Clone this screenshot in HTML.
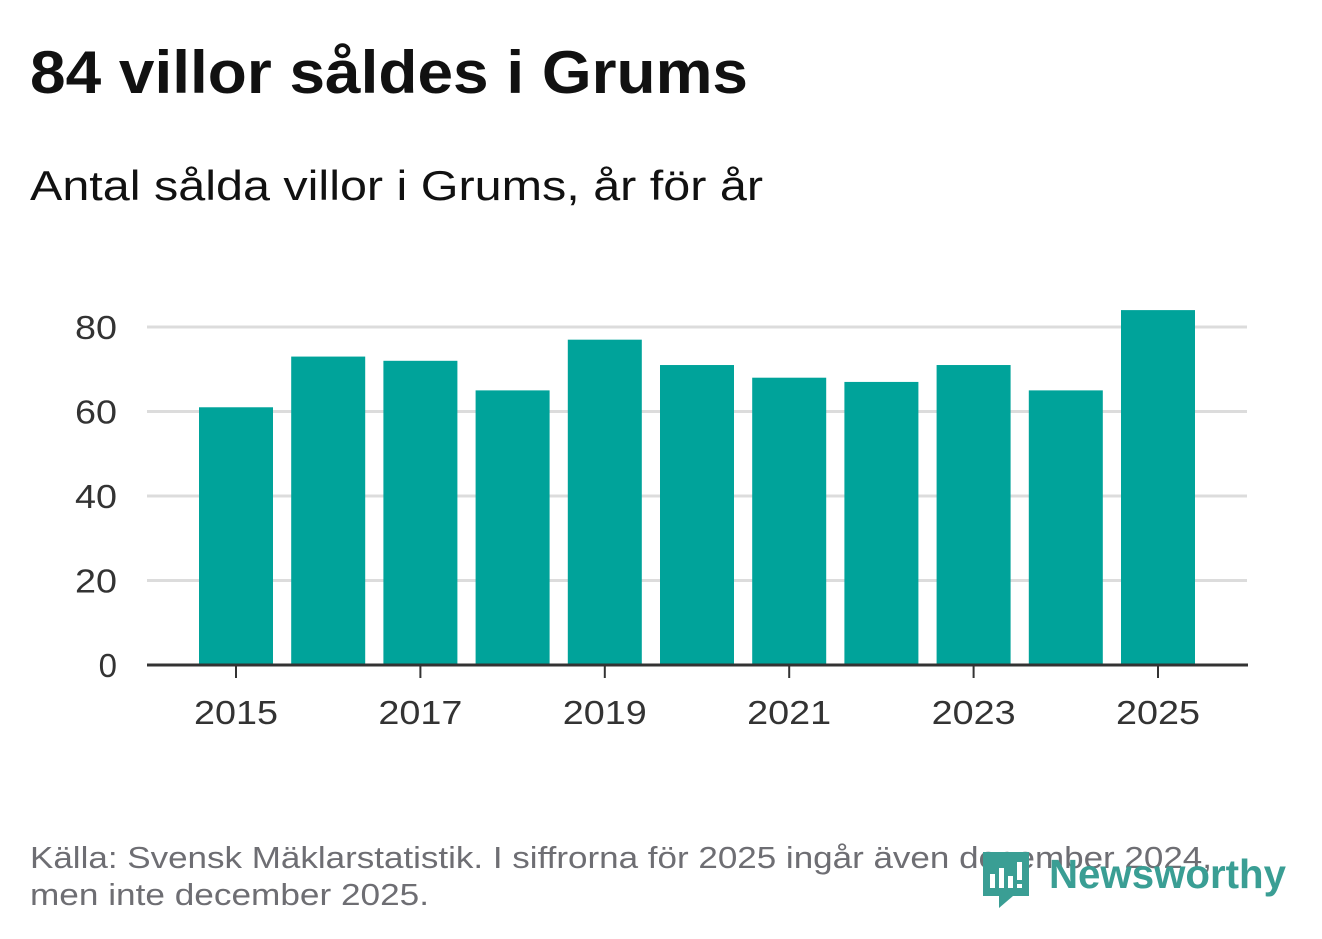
<!DOCTYPE html>
<html><head><meta charset="utf-8"><style>
body{margin:0;background:#fff;width:1322px;height:939px;overflow:hidden;font-family:"Liberation Sans",sans-serif;}
svg{display:block}
</style></head><body>
<svg id="c" width="1322" height="939">
<text x="30" y="93" font-size="60" font-weight="bold" fill="#111" textLength="718" lengthAdjust="spacingAndGlyphs">84 villor såldes i Grums</text>
<text x="30" y="200" font-size="42" fill="#111" textLength="733" lengthAdjust="spacingAndGlyphs">Antal sålda villor i Grums, år för år</text>
<g id="grid"></g><g id="bars"></g><g id="axis"></g>
<text x="30" y="868" font-size="31" fill="#6e6e73" textLength="1182" lengthAdjust="spacingAndGlyphs">Källa: Svensk Mäklarstatistik. I siffrorna för 2025 ingår även december 2024,</text>
<text x="30" y="905" font-size="31" fill="#6e6e73" textLength="399" lengthAdjust="spacingAndGlyphs">men inte december 2025.</text>
<g>
<path d="M983 852 h46 v44 h-16 l-14 12 v-12 h-16 z" fill="#3a9e94"/>
<rect x="990" y="874" width="5" height="14" fill="#fff"/><rect x="999" y="868" width="5" height="20" fill="#fff"/><rect x="1008" y="876" width="5" height="12" fill="#fff"/><rect x="1017" y="862" width="5" height="18" fill="#fff"/><rect x="1017" y="884" width="5" height="4" fill="#fff"/>
<text x="1049" y="888" font-size="41" font-weight="bold" fill="#3a9e94" textLength="237" lengthAdjust="spacingAndGlyphs">Newsworthy</text>
</g>
</svg>
<script>
const years=[2015,2016,2017,2018,2019,2020,2021,2022,2023,2024,2025];
const values=[61,73,72,65,77,71,68,67,71,65,84];
const yTicks=[0,20,40,60,80];
const ns="http://www.w3.org/2000/svg";
const y=v=>665-v*338/80;
const x=i=>236+i*92.2;
function mk(t,a,p){const e=document.createElementNS(ns,t);for(const k in a)e.setAttribute(k,a[k]);document.getElementById(p).appendChild(e);return e;}
yTicks.forEach(t=>{
 if(t>0){const l=mk('line',{x1:147,x2:1247,y1:y(t),y2:y(t),stroke:'#dcdcdc','stroke-width':3},'grid');
 
 }
 const a={x:117,y:y(t)+12,'font-size':33,fill:'#333','text-anchor':'end'};
 if(t>0){a.textLength=42;a.lengthAdjust='spacingAndGlyphs';}
 const tx=mk('text',a,'grid');
 tx.textContent=t;
 
 
});
values.forEach((v,i)=>{
 const r=mk('rect',{x:x(i)-37,y:y(v),width:74,height:665-y(v),fill:'#00a39a'},'bars');
 
 
});
const ax=mk('line',{x1:147,x2:1248,y1:665,y2:665,stroke:'#333','stroke-width':3},'axis');


years.forEach((yr,i)=>{
 if(i%2)return;
 const tk=mk('line',{x1:x(i),x2:x(i),y1:665,y2:678,stroke:'#333','stroke-width':2},'axis');
 
 
 const t=mk('text',{x:x(i),y:724,'font-size':33,fill:'#333','text-anchor':'middle',textLength:84,lengthAdjust:'spacingAndGlyphs'},'axis');
 t.textContent=yr;
 
 
});
</script>
</body></html>
